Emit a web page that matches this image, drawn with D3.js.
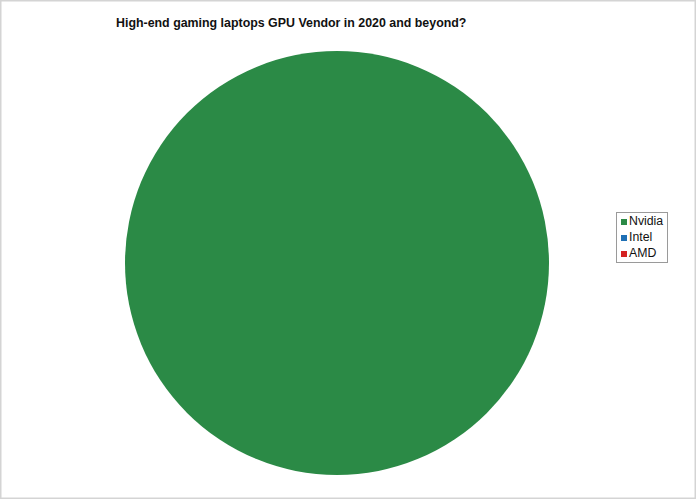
<!DOCTYPE html>
<html>
<head>
<meta charset="utf-8">
<script src="https://cdn.jsdelivr.net/npm/d3@7"></script>
<style>
  body { margin: 0; background: #fff; }
  svg { display: block; font-family: "Liberation Sans", Arial, sans-serif; }
</style>
</head>
<body>
<div id="myVis"></div>
<script>
// chart data
const vendors = ["Nvidia", "Intel", "AMD"]
const shares = [100, 0, 0]
const colors = ["#2b8a46", "#1f70b5", "#d42222"]
const title = "High-end gaming laptops GPU Vendor in 2020 and beyond?"

const width = 697, height = 500

const svg = d3.select("#myVis")
    .append("svg")
        .attr("width", width)
        .attr("height", height)
        .style("background-color", "white")

// outer frame
svg.append("rect")
    .attr("x", 0.75).attr("y", 0.75)
    .attr("width", width - 2.5).attr("height", height - 2.5)
    .attr("fill", "none")
    .attr("stroke", "#d4d4d4")
    .attr("stroke-width", 1.5)

svg.append("text")
    .attr("x", 116)
    .attr("y", 27)
    .style("font-size", "12.4px")
    .style("font-weight", "bold")
    .attr("fill", "#111")
    .text(title)

const color = d3.scaleOrdinal().domain(vendors).range(colors)

const pie = d3.pie().sort(null).value((d, i) => shares[i])
const arc = d3.arc().innerRadius(0).outerRadius(212)

const g = svg.append("g")
    .attr("transform", "translate(337,263)")

g.selectAll("path")
    .data(pie(vendors))
    .enter()
    .append("path")
        .attr("d", arc)
        .attr("fill", d => color(d.data))

// legend
const legend = svg.append("g").attr("transform", "translate(616,212)")

legend.append("rect")
    .attr("x", 0.5).attr("y", 0.5)
    .attr("width", 51).attr("height", 50)
    .attr("fill", "white")
    .attr("stroke", "#9a9a9a")

const item = legend.selectAll("g.item")
    .data(vendors)
    .enter()
    .append("g")
        .attr("class", "item")
        .attr("transform", (d, i) => "translate(5," + (7 + i * 16) + ")")

item.append("rect")
    .attr("width", 6).attr("height", 6)
    .attr("fill", d => color(d))

item.append("text")
    .attr("x", 8)
    .attr("y", 6)
    .style("font-size", "12.3px")
    .attr("fill", "#111")
    .text(d => d)
</script>
</body>
</html>
